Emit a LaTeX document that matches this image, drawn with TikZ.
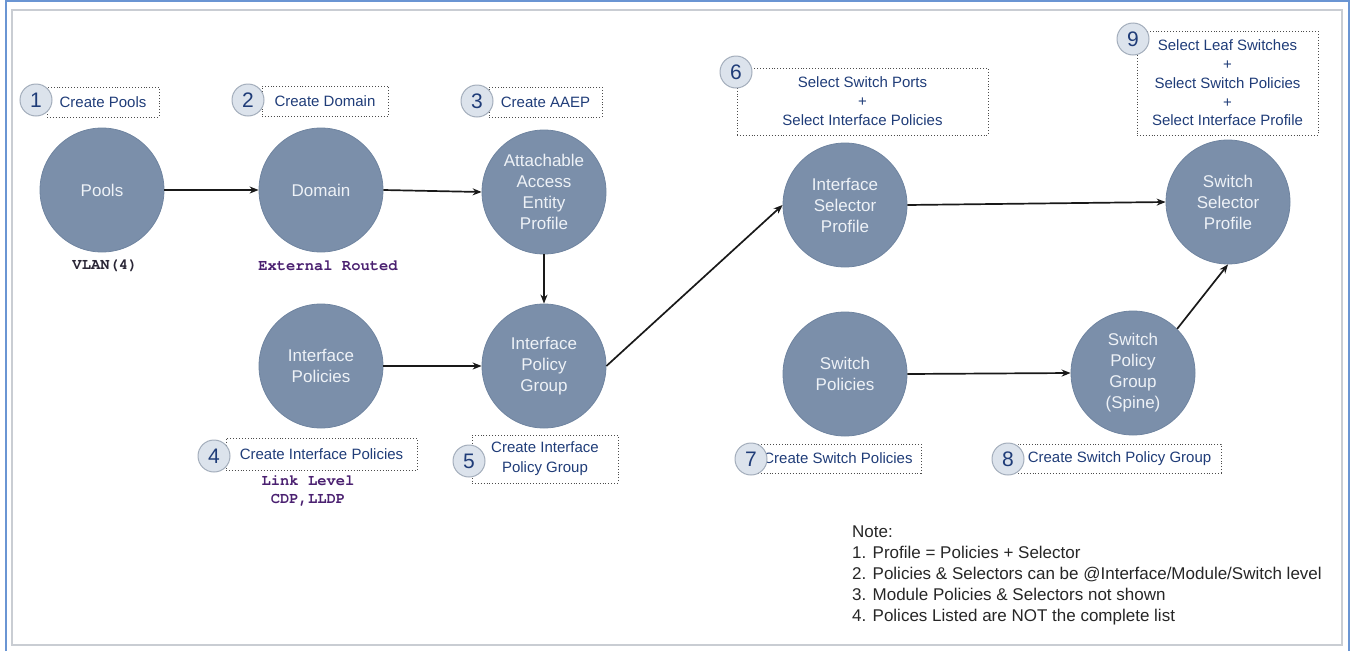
\documentclass[tikz,border=0pt]{standalone}
\usepackage{fontspec}
\setmainfont{Liberation Sans}
\newfontfamily\codefont{texgyrecursor}[Extension=.otf, UprightFont=*-regular, BoldFont=*-bold]
\usetikzlibrary{arrows.meta}

\definecolor{disc}{HTML}{7B8FAA}
\definecolor{discedge}{HTML}{6F84A0}
\definecolor{disctext}{HTML}{EEF2F7}
\definecolor{badgefill}{HTML}{DCE3EC}
\definecolor{badgeedge}{HTML}{A3ADBB}
\definecolor{labelblue}{HTML}{1F3C78}
\definecolor{framegray}{HTML}{C9CDD3}
\definecolor{frameblue}{HTML}{6A95D3}
\definecolor{codepurple}{HTML}{4A2070}
\definecolor{codedark}{HTML}{2A2636}

\tikzset{
  obj/.style={circle, fill=disc, draw=discedge, line width=0.8pt,
    minimum size=124pt, inner sep=0pt, align=center, text=disctext,
    font=\fontsize{17}{21}\selectfont},
  lbox/.style={draw=black!70, dotted, line width=0.9pt, inner sep=0pt,
    align=center, text=labelblue, font=\fontsize{15}{19}\selectfont},
  badge/.style={circle, fill=badgefill, draw=badgeedge, line width=1pt,
    minimum size=32pt, inner sep=0pt, text=labelblue,
    font=\fontsize{21}{21}\selectfont},
  code/.style={font=\codefont\bfseries\fontsize{15.5}{18}\selectfont, align=center},
  flow/.style={-{Stealth[length=9pt,width=7pt]}, line width=1.7pt, black!90},
  note/.style={anchor=base west, inner sep=0pt, text=black!85, font=\fontsize{17}{21}\selectfont}
}

\begin{document}
\begin{tikzpicture}[x=1pt, y=-1pt]
\useasboundingbox (0,0) rectangle (1354,651);

% page frame
\draw[framegray, line width=1.5pt] (12,10) rectangle (1342,645);
\draw[frameblue, line width=1.2pt] (6,651) -- (6,1) -- (1349,1) -- (1349,651);

% objects
\node[obj] (pools)  at (102,190) {Pools};
\node[obj] (domain) at (321,190) {Domain};
\node[obj] (aaep)   at (544,192) {Attachable\\Access\\Entity\\Profile};
\node[obj] (isp)    at (845,205) {Interface\\Selector\\Profile};
\node[obj] (ssp)    at (1228,202) {Switch\\Selector\\Profile};
\node[obj] (ip)     at (321,366) {Interface\\Policies};
\node[obj] (ipg)    at (544,366) {Interface\\Policy\\Group};
\node[obj] (sp)     at (845,374) {Switch\\Policies};
\node[obj] (spg)    at (1133,373) {Switch\\Policy\\Group\\(Spine)};

% connectors
\draw[flow] (pools.east) -- (domain.west);
\draw[flow] (domain.east) -- (aaep.west);
\draw[flow] (aaep.south) -- (ipg.north);
\draw[flow] (ip.east) -- (ipg.west);
\draw[flow] (ipg.east) -- (isp.west);
\draw[flow] (isp.east) -- (ssp.west);
\draw[flow] (sp.east) -- (spg.west);
\draw[flow] (spg.north east) -- (ssp.south);

% step boxes
\node[lbox, minimum width=112pt, minimum height=30pt] (b1) at (103,102) {Create Pools};
\node[lbox, minimum width=126pt, minimum height=30pt] (b2) at (325,101) {Create Domain};
\node[lbox, minimum width=113pt, minimum height=30pt] (b3) at (545.5,102) {Create AAEP};
\node[lbox, minimum width=251pt, minimum height=67pt] (b6) at (862.5,101.5)
  {Select Switch Ports\\+\\Select Interface Policies};
\node[lbox, minimum width=181pt, minimum height=104pt, font=\fontsize{15}{18.75}\selectfont] (b9) at (1227.5,83)
  {Select Leaf Switches\\+\\Select Switch Policies\\+\\Select Interface Profile};
\node[lbox, minimum width=191pt, minimum height=32pt] (b4) at (321.5,454) {Create Interface Policies};
\node[lbox, minimum width=146pt, minimum height=48pt, font=\fontsize{15}{20}\selectfont] (b5) at (545,459)
  {Create Interface\\Policy Group};
\node[lbox, minimum width=166pt, minimum height=29pt] (b7) at (838,458.5) {Create Switch Policies};
\node[lbox, minimum width=203pt, minimum height=29pt] (b8) at (1119.5,458.5) {Create Switch Policy Group};

% step numbers
\node[badge] (n1) at (36,100) {1};
\node[badge] (n2) at (248,100) {2};
\node[badge] (n3) at (477,101) {3};
\node[badge] (n6) at (736,72) {6};
\node[badge] (n9) at (1133,39) {9};
\node[badge] (n4) at (214,456) {4};
\node[badge] (n5) at (469,461) {5};
\node[badge] (n7) at (751,459) {7};
\node[badge] (n8) at (1008,459) {8};

% policy examples
\node[code, text=codedark] (c1) at (105,266) {VLAN(4)};
\node[code, text=codepurple] (c2) at (328,266) {External Routed};
\node[code, text=codepurple, font=\codefont\bfseries\fontsize{15.5}{18.5}\selectfont] (c4) at (308,491) {Link Level\\CDP,LLDP};

% notes
\node[note] (t0) at (852,537) {Note:};
\node[note] (t1) at (852,558) {1. Profile = Policies + Selector};
\node[note] (t2) at (852,579) {2. Policies \& Selectors can be @Interface/Module/Switch level};
\node[note] (t3) at (852,600) {3. Module Policies \& Selectors not shown};
\node[note] (t4) at (852,621) {4. Polices Listed are NOT the complete list};
\end{tikzpicture}
\end{document}
